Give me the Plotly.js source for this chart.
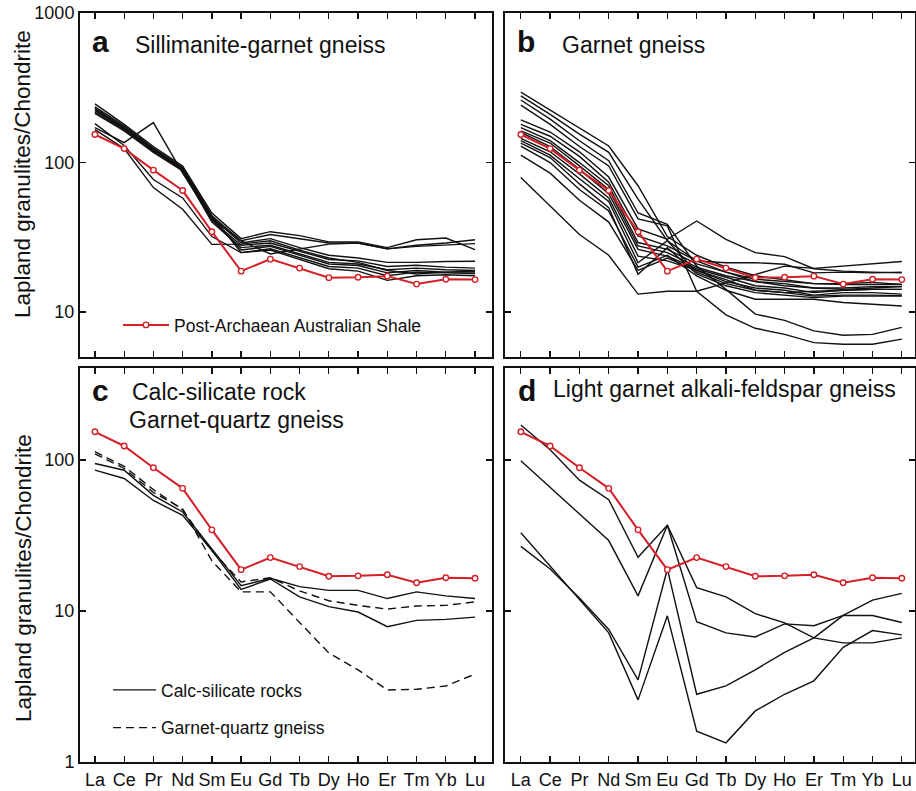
<!DOCTYPE html>
<html><head><meta charset="utf-8">
<script src="https://cdn.plot.ly/plotly-3.0.1.min.js"></script>
<style>body{margin:0;background:#fff}#chart{width:916px;height:791px}</style>
</head><body><div id="chart"></div>
<script>
const elements = ['La','Ce','Pr','Nd','Sm','Eu','Gd','Tb','Dy','Ho','Er','Tm','Yb','Lu'];
const paas = [154,124,89,65,34.5,18.8,22.6,19.7,17.0,17.1,17.4,15.4,16.6,16.5];

// a: Sillimanite-garnet gneiss
const sillGarnet = [
  [247,180,128,95,46,31,34.5,32.5,29.5,29.5,27,30.5,31.3,26.2],
  [236,176,125,93,44,30,33,31,29,29,26.5,28,29,30.5],
  [171,136,185,85,42,30,24.5,26.5,28.5,29,26.5,27.5,28,28.7],
  [226,170,122,91,43,29,31,27,24,23,21.5,21.5,21.8,21.9],
  [217,166,119,89,41,28,29,25.5,22.5,22,20.2,20.6,20,19.7],
  [213,163,117,88,40,27,28,24.5,21.5,21,19.2,19.7,19.2,19.0],
  [222,168,120,90,42,26,27.5,24,21,20.5,18.3,19,18.5,18.5],
  [230,172,123,92,44,25,26.5,23,20.2,19.7,17.5,18.5,18.3,18.1],
  [182,130,77,58,32,25,26,22.5,19.5,18.8,16.3,17.5,17.8,17.5],
  [166,124,68,48.7,28.4,28.5,30,26,23,21.5,19,18,18.5,18.8]
];
// b: Garnet gneiss
const garnetGneiss = [
  [296,225,170,129,70,32,24,20,17.5,16.5,15.5,15.5,15.8,15.3],
  [279,210,155,117,57,30,22,18.5,16,15.5,14.5,14.2,14.5,14.8],
  [262,195,140,103,46,38.7,20.3,14.2,9.7,8.8,7.5,7.0,7.1,7.9],
  [242,180,128,95,42,37.7,13.8,9.6,7.8,7.1,6.25,6.1,6.1,6.6],
  [193,160,118,80,36,30.7,40.7,30.7,25,23.5,19.5,18.8,18.5,18.3],
  [180,150,110,74,32.3,27.7,22,21.4,21.4,20.9,18.3,18.5,18.3,18.5],
  [171,140,100,70,29.2,26.3,21,18.5,16.6,16,15.5,15.3,15.3,15.3],
  [163,135,95,66,27.7,25,20,17.5,16,15,14.5,14.5,14.8,14.8],
  [159,128,90,62,26.3,23.7,19.5,17,15,14.5,13.5,14,14.2,14.2],
  [145,118,84,58,23.7,22,19,16,14.5,14,13,13.5,13.5,13.2],
  [140,112,78,55,21.4,30,18.5,15.5,14,13.5,12.8,13,13,12.9],
  [135,108,72,50,17.9,27,18,15,13.5,13,12.5,12.8,12.8,12.8],
  [129,100,66,47.4,20,24,17.5,14,12.2,12.2,12.2,11.6,11.3,11.0],
  [112,85,56,40,19,23,19,16.5,14,13.5,13.8,14,14.2,14.2],
  [79.4,51,33,24,13.2,13.8,13.8,15.7,17.8,20.3,19.6,20.3,21.2,21.8]
];
// c: Calc-silicate rocks (solid) and Garnet-quartz gneiss (dashed)
const calcSilicate = [
  [95,85.7,58.4,45.3,25.8,14.7,16.5,14.5,13.7,13.7,12.1,13.4,12.6,12.1],
  [85.7,75.5,54,43,25.2,13.9,16.3,12.4,10.7,9.85,7.87,8.67,8.8,9.12]
];
const garnetQuartz = [
  [113.6,91,63.7,46.9,25,15.6,16.6,13.6,11.7,10.9,10.3,10.8,10.9,11.5],
  [110,88,61,47.6,21.5,13.4,13.4,8.35,5.27,4.08,3.0,3.03,3.19,3.82]
];
// d: Light garnet alkali-feldspar gneiss
const lightGarnet = [
  [171,117,73.6,54.7,22.7,37,14.3,12.4,9.6,8.35,6.64,6.15,6.15,6.64],
  [99,65.8,44,29.3,12.6,37,8.5,7.17,6.74,8.22,8.0,9.35,9.35,8.4],
  [26.8,19,12.2,7.55,3.5,19,2.81,3.19,4.08,5.33,6.64,9.35,11.8,13.1],
  [33,19.8,11.8,7.17,2.58,9.3,1.6,1.34,2.18,2.81,3.45,5.75,7.43,6.95]
];

const W = 916, H = 791;
const px = x => x / W, py = y => 1 - y / H;
const FONT = 'Liberation Sans, Arial, sans-serif';
const RED = '#d42027';
const BLACK = '#111';

const traces = [];
function blackLines(sets, xa, ya, dash, legendName, legendId) {
  sets.forEach((v, i) => {
    traces.push({
      x: elements, y: v, xaxis: xa, yaxis: ya, type: 'scatter', mode: 'lines',
      line: {color: BLACK, width: 1.4, dash: dash || 'solid'},
      name: legendName || '', showlegend: !!legendName && i === 0,
      legend: legendId || 'legend', legendgroup: legendName || undefined,
      hoverinfo: 'skip'
    });
  });
}
function paasLine(xa, ya, show) {
  traces.push({
    x: elements, y: paas, xaxis: xa, yaxis: ya, type: 'scatter', mode: 'lines+markers',
    line: {color: RED, width: 2},
    marker: {symbol: 'circle', size: 5.5, color: '#fff', line: {color: RED, width: 1.4}},
    name: 'Post-Archaean Australian Shale', showlegend: show, legend: 'legend'
  });
}
blackLines(sillGarnet, 'x', 'y');
paasLine('x', 'y', true);
blackLines(garnetGneiss, 'x2', 'y2');
paasLine('x2', 'y2', false);
blackLines(calcSilicate, 'x3', 'y3', 'solid', 'Calc-silicate rocks', 'legend2');
blackLines(garnetQuartz, 'x3', 'y3', '8px,5px', 'Garnet-quartz gneiss', 'legend2');
paasLine('x3', 'y3', false);
blackLines(lightGarnet, 'x4', 'y4');
paasLine('x4', 'y4', false);

function xAxis(dom, range, anchor, showLabels) {
  return {
    domain: [px(dom[0]), px(dom[1])], anchor: anchor, type: 'category', range: range,
    tickmode: 'array', tickvals: elements, ticktext: elements,
    ticks: 'inside', ticklen: 6, tickwidth: 1.3, tickcolor: BLACK,
    showline: true, linewidth: 2, linecolor: BLACK, mirror: 'ticks',
    showgrid: false, zeroline: false, showticklabels: showLabels,
    tickfont: {family: FONT, size: 18, color: BLACK}, fixedrange: true
  };
}
function yAxis(dom, range, anchor, vals, showLabels) {
  return {
    domain: [py(dom[1]), py(dom[0])], anchor: anchor, type: 'log', range: range,
    tickmode: 'array', tickvals: vals, ticktext: vals.map(String),
    ticks: 'inside', ticklen: 6, tickwidth: 1.3, tickcolor: BLACK,
    showline: true, linewidth: 2, linecolor: BLACK, mirror: 'ticks',
    showgrid: false, zeroline: false, showticklabels: showLabels,
    tickfont: {family: FONT, size: 18, color: BLACK}, fixedrange: true
  };
}

function ann(text, x, y, size, opts) {
  return Object.assign({
    text: text, x: px(x), y: py(y), xref: 'paper', yref: 'paper',
    showarrow: false, xanchor: 'left', yanchor: 'middle',
    font: {family: FONT, size: size, color: BLACK}
  }, opts || {});
}

const annotations = [
  ann('<b>a</b>', 100, 42, 30, {xanchor: 'center'}),
  ann('Sillimanite-garnet gneiss', 133, 45, 23),
  ann('<b>b</b>', 526, 42, 30, {xanchor: 'center'}),
  ann('Garnet gneiss', 560, 45, 23),
  ann('<b>c</b>', 100, 390, 30, {xanchor: 'center'}),
  ann('Calc-silicate rock', 130, 392, 23),
  ann('Garnet-quartz gneiss', 127, 420, 23),
  ann('<b>d</b>', 527, 390, 30, {xanchor: 'center'}),
  ann('Light garnet alkali-feldspar gneiss', 551, 389, 23),
  ann('Lapland granulites/Chondrite', 23, 174, 22.5, {xanchor: 'center', textangle: -90}),
  ann('Lapland granulites/Chondrite', 23, 578, 22.5, {xanchor: 'center', textangle: -90})
];

const layout = {
  width: W, height: H, margin: {l: 0, r: 0, t: 0, b: 0},
  paper_bgcolor: '#fff', plot_bgcolor: '#fff',
  font: {family: FONT, color: BLACK},
  xaxis: xAxis([80, 492], [-0.51, 13.58], 'y', false),
  yaxis: yAxis([13, 357], [0.7, 3], 'x', [10, 100, 1000], true),
  xaxis2: xAxis([505, 915], [-0.54, 13.45], 'y2', false),
  yaxis2: yAxis([13, 357], [0.7, 3], 'x2', [10, 100, 1000], false),
  xaxis3: xAxis([80, 492], [-0.51, 13.58], 'y3', true),
  yaxis3: yAxis([368, 762], [0, 2.61], 'x3', [1, 10, 100], true),
  xaxis4: xAxis([505, 915], [-0.54, 13.45], 'y4', true),
  yaxis4: yAxis([368, 762], [0, 2.61], 'x4', [1, 10, 100], false),
  legend: {x: px(118), y: py(325), xanchor: 'left', yanchor: 'middle', itemwidth: 46,
           bgcolor: 'rgba(0,0,0,0)', borderwidth: 0,
           font: {family: FONT, size: 17.5, color: BLACK}},
  legend2: {x: px(108), y: py(709), xanchor: 'left', yanchor: 'middle', itemwidth: 43,
            bgcolor: 'rgba(0,0,0,0)', borderwidth: 0, tracegroupgap: 12,
            font: {family: FONT, size: 17.5, color: BLACK}},
  annotations: annotations,
  showlegend: true, hovermode: false
};

Plotly.newPlot('chart', traces, layout, {displayModeBar: false, staticPlot: true});
</script>
</body></html>
